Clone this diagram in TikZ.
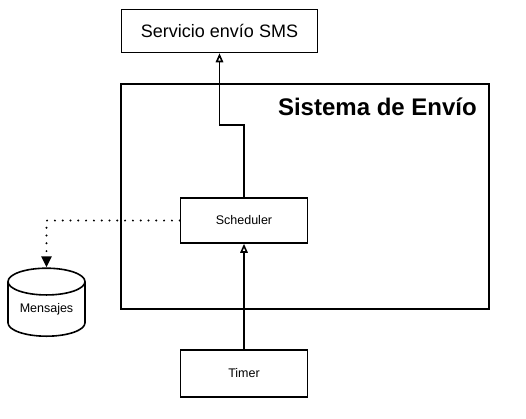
\documentclass[tikz,border=0pt]{standalone}
\usepackage{fontspec}
\setmainfont{Liberation Sans}
\usetikzlibrary{arrows.meta,shapes.geometric}

\tikzset{
  caja/.style={draw,line width=1.6pt,minimum width=127pt,inner sep=0pt,font=\fontsize{12.5}{14}\selectfont},
  flecha/.style={line width=1.6pt,-{Triangle[open,length=9pt,width=7.5pt]}},
  punteada/.style={line width=2.2pt,line cap=round,dash pattern=on 0pt off 7.8pt,-{Triangle[length=11pt,width=10pt]}},
}

\begin{document}
\begin{tikzpicture}[x=1pt,y=-1pt]
    \useasboundingbox (0,0) rectangle (526,418);
    \node[caja,minimum width=196pt,minimum height=43pt,font=\fontsize{18}{20}\selectfont] (sms) at (219.5,31) {Servicio envío SMS};
    \node[draw,line width=1.6pt,minimum width=368pt,minimum height=225pt,inner sep=0pt] (sistema) at (305,196.5) {};
    \node[anchor=base east,inner sep=0pt,font=\fontsize{24}{26}\bfseries] (titulo) at (477,115) {Sistema de Envío};
    \node[caja,minimum height=45pt] (sched) at (244,220.5) {Scheduler};
    \node[caja,minimum height=47pt] (timer) at (244,373.5) {Timer};
    \node[cylinder,draw,line width=1.6pt,shape border rotate=90,aspect=0.5,minimum width=77pt,minimum height=68pt,inner sep=0pt,anchor=south,font=\fontsize{12.5}{14}\selectfont] (mensajes) at (46.5,337) {Mensajes};
    \coordinate (codo) at (219.5,125);
    \draw[flecha] (timer) -- (sched);
    \draw[flecha] (sched.north) |- (codo) -- (sms.south);
    \draw[punteada] (sched.west) -| (mensajes.north);
  \end{tikzpicture}
\end{document}
